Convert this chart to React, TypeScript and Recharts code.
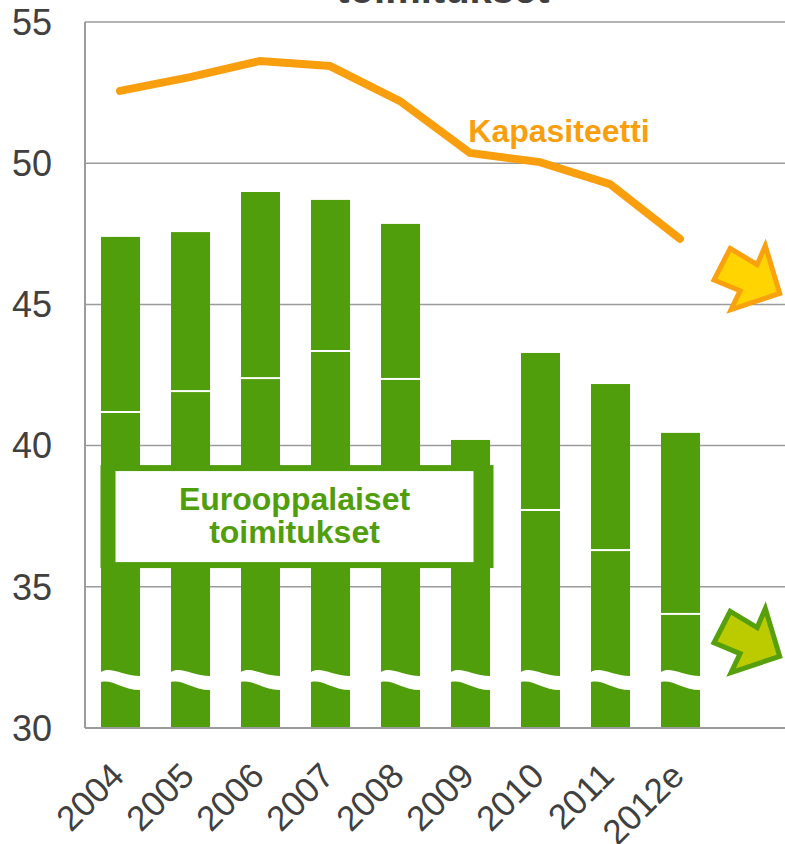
import React from 'react';
import {
  ComposedChart, Bar, Line, XAxis, YAxis, CartesianGrid, ReferenceDot, Customized,
} from 'recharts';

const years = ['2004', '2005', '2006', '2007', '2008', '2009', '2010', '2011', '2012e', ' '];
const dividerValues = [41.19, 41.93, 42.39, 43.35, 42.36, 36.13, 37.72, 36.3, 34.04, null];
const totalValues = [47.39, 47.56, 48.98, 48.7, 47.85, 40.2, 43.28, 42.18, 40.45, null];
const capacityValues = [52.56, 53.05, 53.62, 53.44, 52.2, 50.36, 50.04, 49.26, 47.32, null];
const yTicks = [30, 35, 40, 45, 50, 55];

const data = years.map((year, i) => ({
  year,
  lower: dividerValues[i],
  upper: totalValues[i] != null && dividerValues[i] != null ? +(totalValues[i]! - dividerValues[i]!).toFixed(2) : null,
  capacity: capacityValues[i],
}));

const FONT = '"Liberation Sans", Arial, Helvetica, sans-serif';
const GREEN = '#519E0C';
const ORANGE = '#F99F0E';
const GRID = '#9B9B9B';
const TEXT = '#404040';

const LowerShape = (props: any) => {
  const { x, y, width, height } = props;
  if (!width || !height) return null;
  const b = y + height;
  const w = width;
  const wave = `M ${x} ${b - 56} C ${x + 0.25 * w} ${b - 62} ${x + 0.55 * w} ${b - 52} ${x + w} ${b - 52} L ${x + w} ${b - 38} C ${x + 0.55 * w} ${b - 38} ${x + 0.3 * w} ${b - 49} ${x} ${b - 46} Z`;
  return (
    <g>
      <rect x={x} y={y} width={width} height={height} fill={GREEN} />
      <path d={wave} fill="#fff" />
    </g>
  );
};

const UpperShape = (props: any) => {
  const { x, y, width, height } = props;
  if (!width || !height) return null;
  return (
    <g>
      <rect x={x} y={y} width={width} height={height} fill={GREEN} />
      <rect x={x} y={y + height - 1} width={width} height={2} fill="#fff" />
    </g>
  );
};

const XTick = (props: any) => {
  const { x, y, payload } = props;
  const ax = x + 6;
  const ay = y + 50;
  return (
    <text x={ax} y={ay} transform={`rotate(-45 ${ax} ${ay})`} textAnchor="end" fontSize={35} fill={TEXT} fontFamily={FONT}>
      {payload.value}
    </text>
  );
};

// Annotation box anchored at the top-left (2004 bar, value 39.31)
const BoxShape = (props: any) => {
  const { cx, cy } = props;
  const ox = cx - 19.5;
  const ow = 393;
  const oh = 103;
  const ix = ox + 15;
  const iw = ow - 35;
  const tcx = ix + iw / 2;
  return (
    <g>
      <rect x={ox} y={cy} width={ow} height={oh} fill={GREEN} />
      <rect x={ix} y={cy + 6} width={iw} height={oh - 12} fill="#fff" />
      <text x={tcx} y={cy + 45} textAnchor="middle" fontSize={32} fontWeight="bold" fill={GREEN} fontFamily={FONT}>Eurooppalaiset</text>
      <text x={tcx} y={cy + 78} textAnchor="middle" fontSize={32} fontWeight="bold" fill={GREEN} fontFamily={FONT}>toimitukset</text>
    </g>
  );
};

const arrowPts = [[-22, -33], [8, -15], [17, -36], [33, 17], [-21, 35], [-11, 14], [-40, 2]];
const makeArrow = (fill: string, stroke: string) => (props: any) => {
  const { cx, cy } = props;
  const pts = arrowPts.map(([dx, dy]) => `${cx + dx * 0.9} ${cy + dy * 0.9}`).join(' ');
  return <polygon points={pts} fill={fill} stroke={stroke} strokeWidth={5} strokeLinejoin="miter" />;
};

const KapLabel = (props: any) => {
  const { cx, cy } = props;
  return (
    <text x={cx + 19} y={cy} textAnchor="middle" fontSize={32} fontWeight="bold" fill={ORANGE} fontFamily={FONT}>Kapasiteetti</text>
  );
};

const Title = () => (
  <text x={443} y={3} textAnchor="middle" fontSize={40} fontWeight="bold" fill={TEXT} fontFamily={FONT}>toimitukset</text>
);

export default function App() {
  const anyProps: any = { zIndex: 1500 };
  return (
    <div style={{ position: 'absolute', left: 0, top: 0, width: 785, height: 844, background: '#fff' }}>
      <ComposedChart width={785} height={844} data={data} margin={{ top: 22, right: 0, left: 0, bottom: 0 }} barSize={39}>
        <CartesianGrid vertical={false} stroke={GRID} strokeWidth={1.5} />
        <XAxis
          dataKey="year"
          interval={0}
          tickLine={false}
          tickSize={0}
          tickMargin={0}
          height={116}
          axisLine={{ stroke: GRID, strokeWidth: 2 }}
          tick={<XTick />}
        />
        <YAxis
          domain={[30, 55]}
          ticks={yTicks}
          allowDataOverflow
          width={85}
          tickLine={false}
          tickSize={0}
          tickMargin={33}
          axisLine={{ stroke: GRID, strokeWidth: 2 }}
          tick={{ fontSize: 36, fill: TEXT, fontFamily: FONT }}
        />
        <Bar dataKey="lower" stackId="a" fill={GREEN} shape={<LowerShape />} isAnimationActive={false} />
        <Bar dataKey="upper" stackId="a" fill={GREEN} shape={<UpperShape />} isAnimationActive={false} />
        <Line
          dataKey="capacity"
          stroke={ORANGE}
          strokeWidth={8}
          dot={false}
          activeDot={false}
          strokeLinecap="round"
          isAnimationActive={false}
        />
        <ReferenceDot x="2004" y={39.31} shape={<BoxShape />} ifOverflow="visible" {...anyProps} />
        <ReferenceDot x="2010" y={50.75} shape={<KapLabel />} ifOverflow="visible" {...anyProps} />
        <ReferenceDot x=" " y={45.93} shape={makeArrow('#FFD400', '#F9A10E')} ifOverflow="visible" {...anyProps} />
        <ReferenceDot x=" " y={33.08} shape={makeArrow('#BCCB00', '#55A00C')} ifOverflow="visible" {...anyProps} />
        <Customized component={Title} />
      </ComposedChart>
    </div>
  );
}
